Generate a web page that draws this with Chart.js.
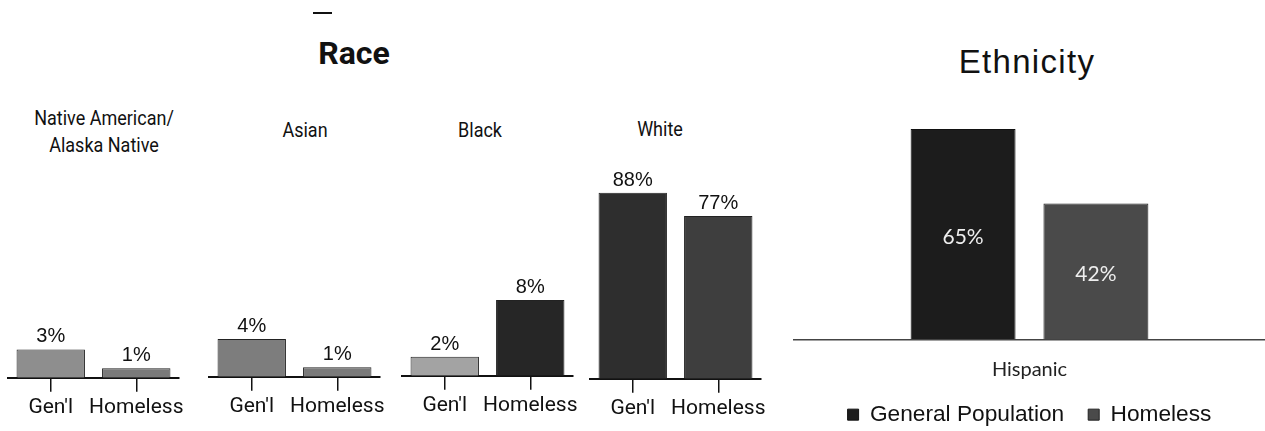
<!DOCTYPE html>
<html><head><meta charset="utf-8">
<script src="https://cdn.jsdelivr.net/npm/chart.js@4.4.1/dist/chart.umd.min.js"></script>
<style>
html,body{margin:0;padding:0;background:#fff;width:1265px;height:431px;overflow:hidden;position:relative}
.t{position:absolute;white-space:nowrap;color:#111;line-height:1;transform:translate(-50%,-50%)}
canvas{position:absolute}
</style></head><body>
<script>
// ---- data ----
const raceTitle = 'Race';
const ethnicityTitle = 'Ethnicity';
const raceGroups = [['Native American/', 'Alaska Native'], ['Asian'], ['Black'], ['White']];
const raceCategories = ["Gen'l", 'Homeless'];
const nativeAmericanValues = [3, 1];
const asianValues = [4, 1];
const blackValues = [2, 8];
const whiteValues = [88, 77];
const ethnicityCategories = ['Hispanic'];
const seriesNames = ['General Population', 'Homeless'];
const generalPopulationValues = [65];
const homelessValues = [42];

// ---- layout / style ----
const panels = [
  {values: nativeAmericanValues, left: 8,   base: 378, max: 23,  colors: ['#8e8e8e', '#7a7a7a'], tx: 104, ty: [118, 145]},
  {values: asianValues,          left: 209, base: 377, max: 23,  colors: ['#7d7d7d', '#7a7a7a'], tx: 305, ty: [130]},
  {values: blackValues,          left: 402, base: 376, max: 23,  colors: ['#a3a3a3', '#262626'], tx: 480, ty: [130]},
  {values: whiteValues,          left: 590, base: 379, max: 103, colors: ['#2e2e2e', '#3e3e3e'], tx: 660, ty: [129]}
];

function addText(txt, x, y, css) {
  const d = document.createElement('div');
  d.className = 't';
  d.textContent = txt;
  d.style.left = x + 'px';
  d.style.top = y + 'px';
  Object.assign(d.style, css || {});
  document.body.appendChild(d);
  return d;
}

// stray dash above "Race"
const dash = document.createElement('div');
Object.assign(dash.style, {position: 'absolute', left: '313px', top: '12px', width: '19px', height: '2px', background: '#111'});
document.body.appendChild(dash);

addText(raceTitle, 354, 53, {font: 'bold 32px Roboto'});
addText(ethnicityTitle, 1027, 62, {font: '33px "Liberation Sans"', letterSpacing: '1.3px'});

panels.forEach((p, k) => {
  raceGroups[k].forEach((line, j) => {
    addText(line, p.tx, p.ty[j], {font: '20px Roboto', transform: 'translate(-50%,-50%) scaleX(0.9)'});
  });
});

const valueLabels = {
  id: 'valueLabels',
  afterDatasetsDraw(chart, args, opts) {
    const ctx = chart.ctx;
    chart.data.datasets.forEach((ds, di) => {
      const meta = chart.getDatasetMeta(di);
      meta.data.forEach((bar, i) => {
        const v = ds.data[i];
        ctx.save();
        ctx.font = opts.font;
        ctx.fillStyle = opts.color;
        ctx.textAlign = 'center';
        if (opts.inside) {
          ctx.textBaseline = 'middle';
          ctx.fillText(v + '%', bar.x, (bar.y + bar.base) / 2 + opts.offset);
        } else {
          ctx.textBaseline = 'alphabetic';
          ctx.fillText(v + '%', bar.x, bar.y - opts.offset);
        }
        ctx.restore();
      });
    });
  }
};

const AREA_H = 218;
panels.forEach(p => {
  const c = document.createElement('canvas');
  c.width = 211; c.height = 271;
  c.style.left = (p.left - 20) + 'px';
  c.style.top = (p.base - AREA_H) + 'px';
  document.body.appendChild(c);
  new Chart(c, {
    type: 'bar',
    data: {labels: raceCategories, datasets: [{
      data: p.values, backgroundColor: p.colors, borderColor: '#222', borderWidth: 1,
      categoryPercentage: 1, barPercentage: 0.8
    }]},
    options: {
      responsive: false, animation: false, events: [],
      layout: {padding: {left: 20, right: 20, top: 0, bottom: 8}},
      plugins: {
        legend: {display: false}, tooltip: {enabled: false},
        valueLabels: {font: '20px "Liberation Sans"', color: '#111', offset: 7}
      },
      scales: {
        x: {
          grid: {display: true, drawOnChartArea: false, drawTicks: true, tickLength: 14, offset: false, color: '#111', lineWidth: 1.5},
          border: {display: true, color: '#111', width: 2},
          ticks: {font: {family: 'Roboto', size: 21}, color: '#111', padding: 3, maxRotation: 0, autoSkip: false}
        },
        y: {display: false, min: 0, max: p.max}
      }
    },
    plugins: [valueLabels]
  });
});

// Ethnicity chart
const ce = document.createElement('canvas');
ce.width = 485; ce.height = 336;
ce.style.left = '780px'; ce.style.top = '100px';
document.body.appendChild(ce);
new Chart(ce, {
  type: 'bar',
  data: {labels: ethnicityCategories, datasets: [
    {label: seriesNames[0], data: generalPopulationValues, backgroundColor: '#1c1c1c', borderColor: '#111', borderWidth: 1},
    {label: seriesNames[1], data: homelessValues, backgroundColor: '#4a4a4a', borderColor: '#222', borderWidth: 1}
  ]},
  options: {
    responsive: false, animation: false, events: [],
    datasets: {bar: {categoryPercentage: 0.564, barPercentage: 0.79}},
    layout: {padding: {left: 14, right: 0, top: 0, bottom: 0}},
    plugins: {
      tooltip: {enabled: false},
      legend: {position: 'bottom', labels: {font: {family: 'Liberation Sans', size: 22.7}, color: '#111', boxWidth: 11, boxHeight: 11, padding: 24}},
      valueLabels: {inside: true, font: '21px Lato', color: '#eeeeee', offset: 3}
    },
    scales: {
      x: {
        grid: {display: false, drawTicks: false},
        border: {display: true, color: '#444', width: 1.5},
        ticks: {display: false},
        title: {display: true, text: ethnicityCategories[0], font: {family: 'Lato', size: 20, lineHeight: 1}, color: '#222', padding: {top: 20, bottom: 0}}
      },
      y: {display: false, min: 0, max: 74}
    }
  },
  plugins: [valueLabels]
});
</script>
</body></html>
